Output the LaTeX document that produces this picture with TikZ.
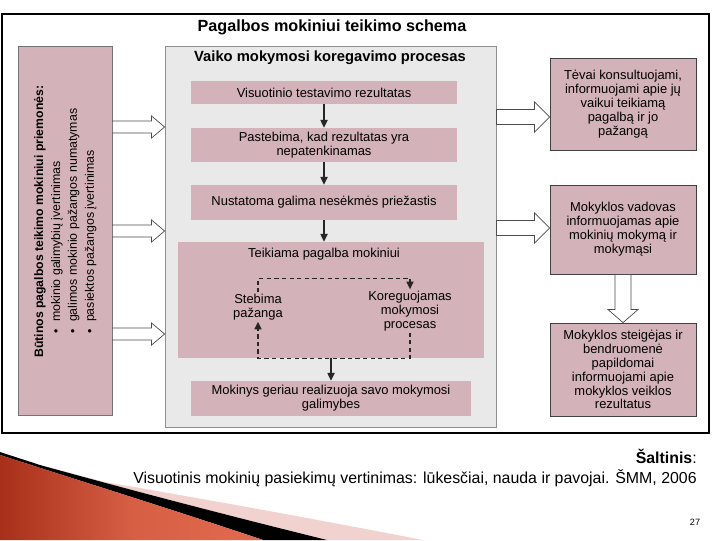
\documentclass[tikz,border=0pt]{standalone}
\usepackage{fontspec}
\setmainfont{Liberation Sans}
\usetikzlibrary{arrows.meta,positioning,calc}
\definecolor{cpink}{HTML}{D4B2B9}
\definecolor{cpanel}{HTML}{E9E9E9}
\definecolor{cpanelline}{HTML}{8E8E8E}
\definecolor{cred}{HTML}{A8301A}
\definecolor{corange}{HTML}{E26A4E}
\definecolor{cblush}{HTML}{F2D2CF}
\newcommand{\px}[1]{#1*0.025cm}
\newcommand{\bodyfont}{\fontsize{9.2}{9.9}\selectfont}
\newcommand{\headfont}{\fontsize{10.5}{12}\selectfont\bfseries}

\begin{document}
\begin{tikzpicture}[x=0.025cm, y=-0.025cm,
      box/.style={fill=cpink, inner sep=0pt, align=center, font=\bodyfont},
      midbox/.style={box, minimum width=\px{266}},
      sidebox/.style={box, draw=black!75, line width=0.6pt, minimum width=\px{146}},
      arr/.style={-{Triangle[width=5pt,length=5.5pt]}, line width=1.1pt, draw=black!85},
      loopline/.style={arr, dash pattern=on 3pt off 2.4pt},
      blockarr/.style n args={3}{draw=black!70, fill=white, line width=0.5pt,
        to path={-- ($(\tikztostart)+(0,#1)$) -- ($(\tikztotarget)+(-#3,#1)$)
          -- ($(\tikztotarget)+(-#3,#2)$) -- (\tikztotarget)
          -- ($(\tikztotarget)+(-#3,-#2)$) -- ($(\tikztotarget)+(-#3,-#1)$)
          -- ($(\tikztostart)+(0,-#1)$) -- cycle}},
      blockdown/.style n args={3}{draw=black!70, fill=white, line width=0.5pt,
        to path={-- ($(\tikztostart)+(#1,0)$) -- ($(\tikztotarget)+(#1,-#3)$)
          -- ($(\tikztotarget)+(#2,-#3)$) -- (\tikztotarget)
          -- ($(\tikztotarget)+(-#2,-#3)$) -- ($(\tikztotarget)+(-#1,-#3)$)
          -- ($(\tikztostart)+(-#1,0)$) -- cycle}}
    ]
    \useasboundingbox (0,0) rectangle (720,540);
    % decoration in the lower left corner
    \fill[cblush] (105,482) .. controls (210,500) and (320,520) .. (423,540) -- (327,540)
      .. controls (230,516) and (130,490) .. (40,465) -- cycle;
    \fill[black] (40,465) .. controls (130,490) and (230,516) .. (327,540) -- (263,540)
      .. controls (180,512) and (90,484) .. (0,455) -- (0,452) -- cycle;
    \shade[left color=cred, right color=corange, middle color=corange!80!cred]
      (0,455) .. controls (90,484) and (180,512) .. (263,540) -- (0,540) -- cycle;

    % frame and heading
    \draw[line width=0.8pt] (2,14) rectangle (709,433);
    \node[font=\fontsize{11.5}{13}\selectfont\bfseries] (title) at (332,27) {Pagalbos mokiniui teikimo schema};

    % left column
    \node[box, draw=black!55, line width=0.5pt, minimum width=\px{94}, minimum height=\px{369}] (lp) at (65,230.5) {};
    \node[font=\fontsize{8.8}{12}\selectfont, align=left, rotate=90, anchor=north west, inner sep=0pt] (lptext) at (34,358)
      {\textbf{\fontsize{8.7}{12}\selectfont Būtinos pagalbos teikimo mokiniui priemonės:}\\
       \hspace*{17pt}\makebox[8.5pt][l]{•}mokinio galimybių įvertinimas\\
       \hspace*{17pt}\makebox[8.5pt][l]{•}galimos mokinio pažangos numatymas\\
       \hspace*{17pt}\makebox[8.5pt][l]{•}pasiektos pažangos įvertinimas};

    % middle panel
    \node[fill=cpanel, draw=cpanelline, line width=0.6pt, minimum width=\px{331}, minimum height=\px{381}] (gp) at (330.5,236.5) {};
    \node[font=\headfont] (gptitle) at (330,58) {Vaiko mokymosi koregavimo procesas};
    \node[midbox, minimum height=\px{23}] (b1) at (324,92.5) {Visuotinio testavimo rezultatas};
    \node[midbox, minimum height=\px{34}] (b2) at (324,145) {Pastebima, kad rezultatas yra\\nepatenkinamas};
    \node[midbox, minimum height=\px{35}] (b3) at (324,202.5) {Nustatoma galima nesėkmės priežastis};
    \node[box, minimum width=\px{306}, minimum height=\px{116}] (b4) at (331,300) {};
    \node[font=\bodyfont] (b4text) at (324,254) {Teikiama pagalba mokiniui};
    \node[font=\bodyfont, align=center, inner sep=1pt] (steb) at (258,307) {Stebima\\pažanga};
    \node[font=\bodyfont, align=center, inner sep=1pt] (koreg) at (410,311) {Koreguojamas\\mokymosi\\procesas};
    \node[midbox, minimum width=\px{280}, minimum height=\px{35}] (b5) at (331,398.5) {Mokinys geriau realizuoja savo mokymosi\\galimybes};

    \draw[arr] (b1) -- (b2);
    \draw[arr] (b2) -- (b3);
    \draw[arr] (b3.south) -- (b3.south |- b4.north);
    \draw[loopline] (steb.north) -- ++(0,-14) -| (koreg.north);
    \draw[loopline] (koreg.south) |- (b4.south) -| (steb.south);
    \draw[arr] (b4.south) -- (b5.north);

    % right column
    \node[sidebox, minimum height=\px{92}] (r1) at (623,104) {Tėvai konsultuojami,\\informuojami apie jų\\vaikui teikiamą\\pagalbą ir jo\\pažangą};
    \node[sidebox, minimum height=\px{89}] (r2) at (623,229.5) {Mokyklos vadovas\\informuojamas apie\\mokinių mokymą ir\\mokymąsi};
    \node[sidebox, minimum height=\px{93}] (r3) at (623,369.5) {Mokyklos steigėjas ir\\bendruomenė\\papildomai\\informuojami apie\\mokyklos veiklos\\rezultatus};

    % block arrows
    \coordinate (lv1) at (0,127);
    \coordinate (lv2) at (0,231);
    \coordinate (lv3) at (0,334);
    \coordinate (rv1) at (0,117);
    \coordinate (rv2) at (0,228);
    \draw[blockarr={6}{11}{13}] (lp.east |- lv1) to (gp.west |- lv1);
    \draw[blockarr={6}{11}{13}] (lp.east |- lv2) to (gp.west |- lv2);
    \draw[blockarr={6}{11}{13}] (lp.east |- lv3) to (gp.west |- lv3);
    \draw[blockarr={7.5}{15}{15}] (gp.east |- rv1) to (r1.west |- rv1);
    \draw[blockarr={7.5}{15}{15}] (gp.east |- rv2) to (r2.west |- rv2);
    \draw[blockdown={8}{15}{13}] (r2.south) to (r3.north);

    % source
    \node[font=\fontsize{11.3}{13}\selectfont, anchor=east, inner sep=0pt] (srchead) at (697,456) {\textbf{Šaltinis}:};
    \node[font=\fontsize{11.3}{13}\selectfont, anchor=east, inner sep=0pt] (src) at (697,478) {Visuotinis mokinių pasiekimų vertinimas: lūkesčiai, nauda ir pavojai. ŠMM, 2006};
    \node[font=\fontsize{6.5}{8}\selectfont] (pg) at (695,522) {27};
  \end{tikzpicture}
\end{document}
